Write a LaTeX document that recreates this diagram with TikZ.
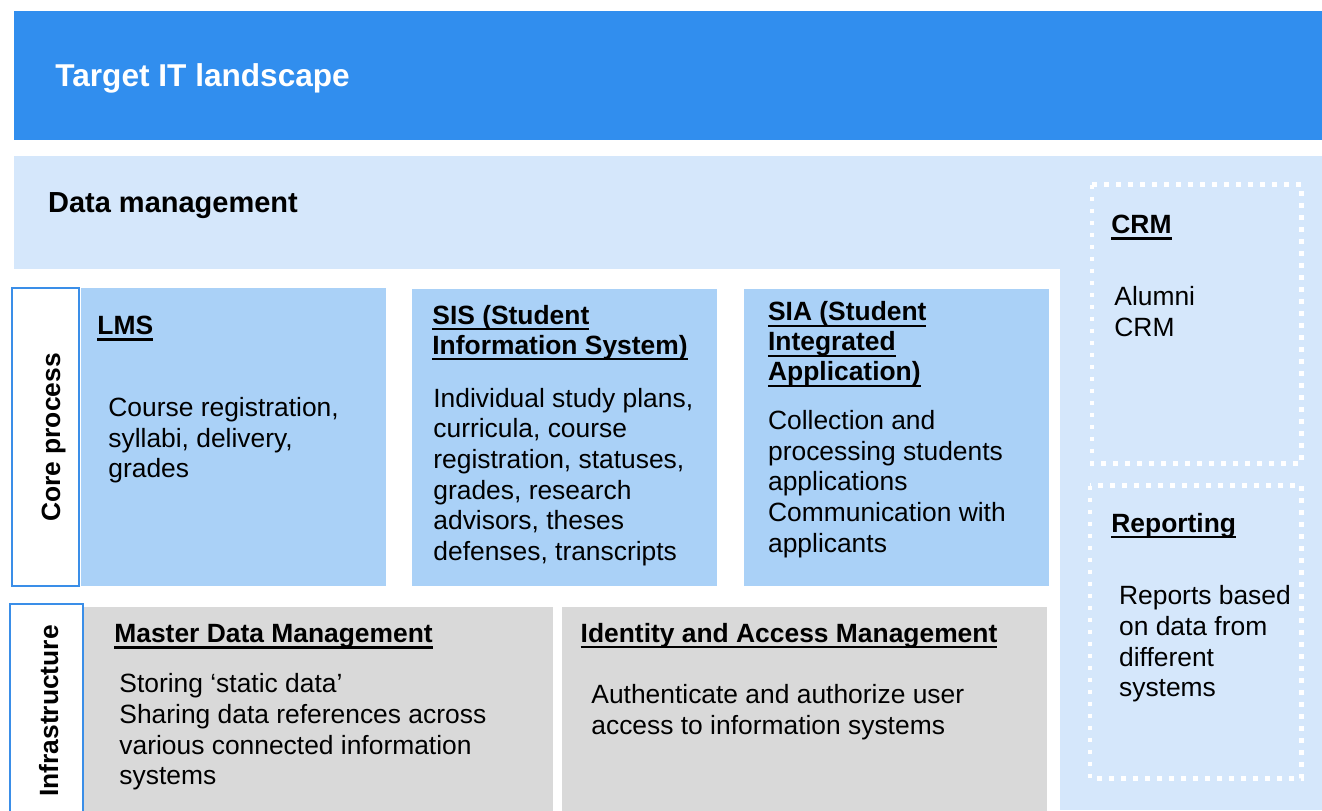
\documentclass[tikz,border=0pt]{standalone}
\usepackage{fontspec}
\setmainfont{Liberation Sans}

\definecolor{bandblue}{RGB}{49,142,238}
\definecolor{paleblue}{RGB}{213,231,251}
\definecolor{boxblue}{RGB}{170,209,247}
\definecolor{edgeblue}{RGB}{58,142,232}
\definecolor{boxgrey}{RGB}{217,217,217}

% underlined heading line: rule at a fixed depth below the baseline
\newcommand\hd[1]{\setbox0\hbox{#1}\rlap{\rule[-3.15pt]{\wd0}{1.15pt}}\box0}

\begin{document}
\begin{tikzpicture}[x=0.5pt,y=-0.5pt,
  bodytext/.style={anchor=north west, inner sep=0pt, align=left,
    font=\fontsize{13.2}{15.3}\selectfont, yshift=9.46pt,
    execute at begin node=\strut},
  headtext/.style={anchor=north west, inner sep=0pt, align=left,
    font=\fontsize{13.2}{15}\selectfont\bfseries, yshift=10.5pt,
    execute at begin node=\strut},
  sidelabel/.style={rotate=90, anchor=base, inner sep=0pt,
    font=\fontsize{13.2}{15}\selectfont\bfseries},
  dotframe/.style={draw=white, line width=2.35pt, dash pattern=on 2.35pt off 3.65pt},
  labelframe/.style={draw=edgeblue, fill=white, line width=1pt}]

\useasboundingbox (0,0) rectangle (1322,810);

% title band
\fill[bandblue] (14,11) rectangle (1322,140);
\node[anchor=base west, inner sep=0pt, text=white,
  font=\fontsize{15.8}{18}\selectfont\bfseries] (title) at (55,86) {Target IT landscape};

% data management area: top band plus right-hand column
\fill[paleblue] (14,156) rectangle (1322,810);
\fill[white] (0,269) rectangle (1060,812);
\node[anchor=base west, inner sep=0pt,
  font=\fontsize{14.5}{17}\selectfont\bfseries] (dm) at (47.7,212.3) {Data management};

% side frames
\draw[dotframe] (1092,184.5) rectangle (1301.5,463.5);
\draw[dotframe] (1090,485.5) rectangle (1301.5,778.5);
\node[headtext] (crmT) at (1111,233) {\hd{CRM}};
\node[bodytext] (crmB) at (1114,305) {Alumni\\CRM};
\node[headtext] (repT) at (1111,531.7) {\hd{Reporting}};
\node[bodytext] (repB) at (1118.7,604.3) {Reports based\\on data from\\different\\systems};

% core process row
\draw[labelframe] (12,288) rectangle (79,586);
\node[sidelabel] (core) at (60,437.5) {Core process};
\fill[boxblue] (81,288) rectangle (386,586);
\fill[boxblue] (412,289) rectangle (717,586);
\fill[boxblue] (744,289) rectangle (1049,586);

\node[headtext] (lmsT) at (97,334) {\hd{LMS}};
\node[bodytext] (lmsB) at (108,416) {Course registration,\\syllabi, delivery,\\grades};

\node[headtext] (sisT) at (432,325.5) {\hd{SIS (Student}\\\hd{Information System)}};
\node[bodytext] (sisB) at (433,406.7) {Individual study plans,\\curricula, course\\registration, statuses,\\grades, research\\advisors, theses\\defenses, transcripts};

\node[headtext] (siaT) at (767.7,322) {\hd{SIA (Student}\\\hd{Integrated}\\\hd{Application)}};
\node[bodytext] (siaB) at (767.7,429) {Collection and\\processing students\\applications\\Communication with\\applicants};

% infrastructure row
\draw[labelframe] (10,604) rectangle (83,816);
\node[sidelabel] (infra) at (58,711) {Infrastructure};
\fill[boxgrey] (84,607) rectangle (553,812);
\fill[boxgrey] (562,607) rectangle (1047,812);

\node[headtext] (mdmT) at (114,642) {\hd{Master Data Management}};
\node[bodytext] (mdmB) at (119,692.3) {Storing ‘static data’\\Sharing data references across\\various connected information\\systems};

\node[headtext] (iamT) at (580.3,641.7) {\hd{Identity and Access Management}};
\node[bodytext] (iamB) at (591,703.3) {Authenticate and authorize user\\access to information systems};

\end{tikzpicture}
\end{document}
